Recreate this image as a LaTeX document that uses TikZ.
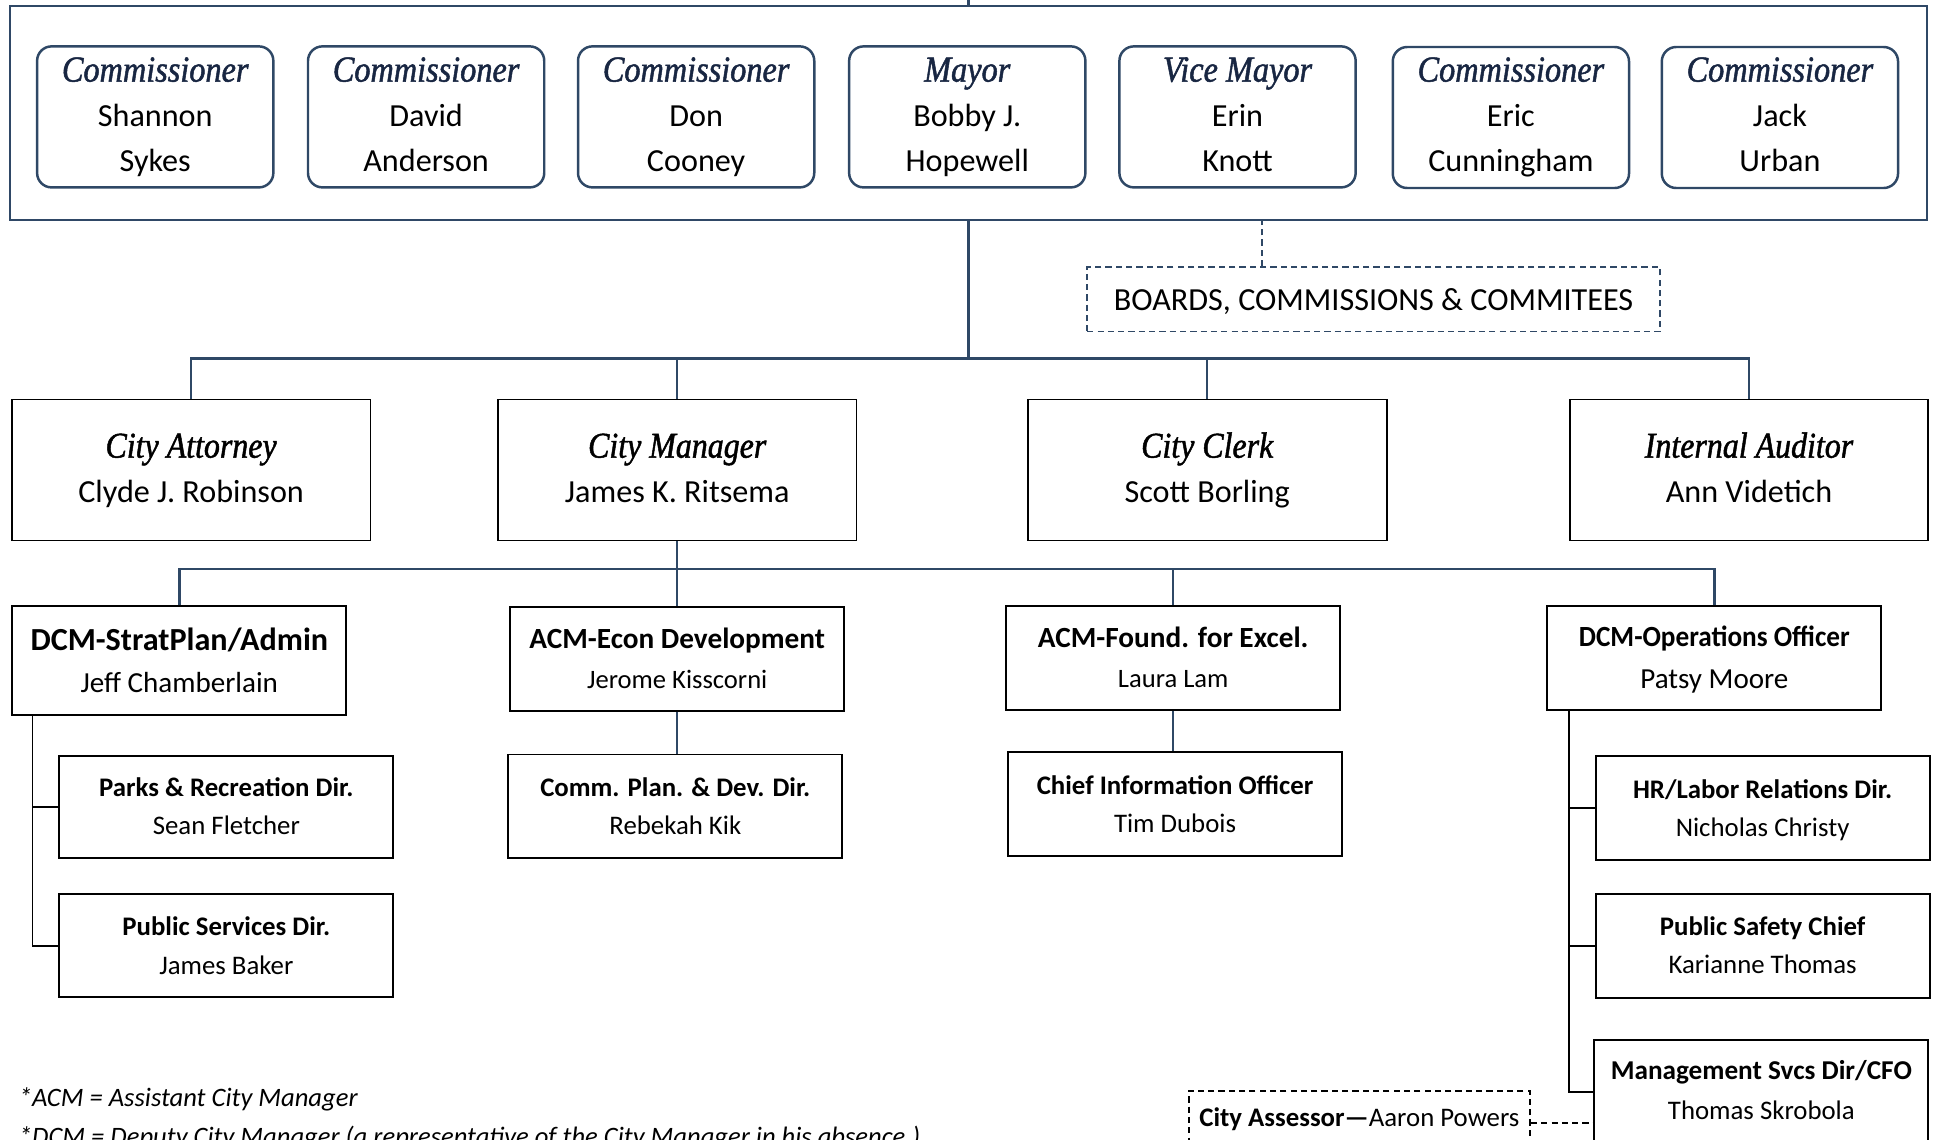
\documentclass[tikz,border=0pt]{standalone}
\usepackage{fontspec}
\setmainfont{Carlito}
\newfontfamily\serfont{Liberation Serif}[FakeStretch=0.88,FakeBold=1.3]
\newfontfamily\condfont{Carlito}[FakeStretch=0.93]
\usetikzlibrary{calc}
\definecolor{navy}{RGB}{47,72,102}
\definecolor{navytext}{RGB}{24,38,66}
\tikzset{
  council/.style={draw=navy, line width=1.2pt, minimum width=930pt, minimum height=103.8pt, inner sep=0pt},
  combox/.style={draw=navy, line width=1.2pt, rounded corners=7pt, fill=white, minimum width=114.6pt, minimum height=68.4pt, inner sep=0pt},
  bigbox/.style={draw=black, line width=0.9pt, fill=white, minimum width=174pt, minimum height=68.4pt, inner sep=0pt},
  midbox/.style={draw=black, line width=0.9pt, fill=white, minimum width=162pt, minimum height=50.4pt, inner sep=0pt},
  navydash/.style={draw=navy, line width=0.9pt, dash pattern=on 3pt off 2pt},
  blackdash/.style={draw=black, line width=0.8pt, dash pattern=on 3pt off 2pt},
  link/.style={draw=navy, line width=1.2pt},
  blink/.style={draw=black, line width=0.9pt},
  lbl/.style={anchor=base, inner sep=0pt},
  comtitle/.style={lbl, text=navytext, font={\serfont\itshape\fontsize{17.8pt}{20pt}\selectfont}},
  comname/.style={lbl, font={\fontsize{15.6pt}{18pt}\selectfont}},
  offtitle/.style={lbl, font={\serfont\itshape\fontsize{17.6pt}{20pt}\selectfont}},
  offname/.style={lbl, font={\fontsize{15.6pt}{18pt}\selectfont}},
  boldA/.style={lbl, font={\bfseries\fontsize{15.6pt}{18pt}\selectfont}},
  boldB/.style={lbl, font={\bfseries\fontsize{14.2pt}{17pt}\selectfont}},
  boldC/.style={lbl, font={\condfont\bfseries\fontsize{14.2pt}{17pt}\selectfont}},
  boldD/.style={lbl, font={\bfseries\fontsize{13pt}{16pt}\selectfont}},
  nameA/.style={lbl, font={\fontsize{14.1pt}{17pt}\selectfont}},
  nameB/.style={lbl, font={\fontsize{12.9pt}{16pt}\selectfont}},
  nameD/.style={lbl, font={\fontsize{13pt}{16pt}\selectfont}},
  foot/.style={anchor=base west, inner sep=0pt, font={\itshape\fontsize{12.9pt}{16pt}\selectfont}},
}
\begin{document}
\begin{tikzpicture}[x=0.6pt,y=-0.6pt]
\useasboundingbox (0,0) rectangle (1566,921.6);
\clip (0,0) rectangle (1566,921.6);

% council
\node[council] (council) at (783,91.5) {};
\draw[link] (council.north) -- ++(0,-8);

\node[combox] (c1) at (125.5,94.5) {};
\node[comtitle] (c1a) at (125.5,66) {Commissioner};
\node[comname] (c1b) at (125.5,102.5) {Shannon};
\node[comname] (c1c) at (125.5,139) {Sykes};

\node[combox] (c2) at (344.5,94.5) {};
\node[comtitle] (c2a) at (344.5,66) {Commissioner};
\node[comname] (c2b) at (344.5,102.5) {David};
\node[comname] (c2c) at (344.5,139) {Anderson};

\node[combox] (c3) at (562.8,94.5) {};
\node[comtitle] (c3a) at (562.8,66) {Commissioner};
\node[comname] (c3b) at (562.8,102.5) {Don};
\node[comname] (c3c) at (562.8,139) {Cooney};

\node[combox] (c4) at (782,94.5) {};
\node[comtitle] (c4a) at (782,66) {Mayor};
\node[comname] (c4b) at (782,102.5) {Bobby J.};
\node[comname] (c4c) at (782,139) {Hopewell};

\node[combox] (c5) at (1000.5,94.5) {};
\node[comtitle] (c5a) at (1000.5,66) {Vice Mayor};
\node[comname] (c5b) at (1000.5,102.5) {Erin};
\node[comname] (c5c) at (1000.5,139) {Knott};

\node[combox] (c6) at (1221.5,95) {};
\node[comtitle] (c6a) at (1221.5,66) {Commissioner};
\node[comname] (c6b) at (1221.5,102.5) {Eric};
\node[comname] (c6c) at (1221.5,139) {Cunningham};

\node[combox] (c7) at (1439,95) {};
\node[comtitle] (c7a) at (1439,66) {Commissioner};
\node[comname] (c7b) at (1439,102.5) {Jack};
\node[comname] (c7c) at (1439,139) {Urban};

% boards
\node[navydash, minimum width=277.8pt, minimum height=31.2pt, inner sep=0pt] (boards) at (1110.5,242) {};
\node[comname] (boardst) at (1110.5,251.2) {BOARDS, COMMISSIONS \& COMMITEES};
\draw[navydash] ([xshift=-54.3pt]boards.north) -- ([xshift=-54.3pt]boards.north |- council.south);

% row 2
\node[bigbox] (att) at (154.5,380) {};
\node[offtitle] (atta) at (154.5,370) {City Attorney};
\node[offname] (attb) at (154.5,406.5) {Clyde J. Robinson};

\node[bigbox] (mgr) at (547.5,380) {};
\node[offtitle] (mgra) at (547.5,370) {City Manager};
\node[offname] (mgrb) at (547.5,406.5) {James K. Ritsema};

\node[bigbox] (clerk) at (976,380) {};
\node[offtitle] (clerka) at (976,370) {City Clerk};
\node[offname] (clerkb) at (976,406.5) {Scott Borling};

\node[bigbox] (aud) at (1414,380) {};
\node[offtitle] (auda) at (1414,370) {Internal Auditor};
\node[offname] (audb) at (1414,406.5) {Ann Videtich};

\coordinate (hub) at (783,290);
\draw[link] (council.south) -- (hub);
\draw[link] (att.north) |- (hub) -| (aud.north);
\draw[link] (mgr.north) -- (mgr.north |- hub);
\draw[link] (clerk.north) -- (clerk.north |- hub);

% row 3
\node[midbox, minimum height=52.8pt] (dcm1) at (145,534) {};
\node[boldA] (dcm1a) at (145,525.5) {DCM-StratPlan/Admin};
\node[nameA] (dcm1b) at (145,560) {Jeff Chamberlain};

\node[midbox] (acm1) at (547.5,532.5) {};
\node[boldB] (acm1a) at (547.5,524.5) {ACM-Econ Development};
\node[nameB] (acm1b) at (547.5,556.5) {Jerome Kisscorni};

\node[midbox] (acm2) at (948.5,532) {};
\node[boldB] (acm2a) at (948.5,523.8) {ACM-Found. for Excel.};
\node[nameB] (acm2b) at (948.5,555.8) {Laura Lam};

\node[midbox] (dcm2) at (1386,532) {};
\node[boldC] (dcm2a) at (1386,523) {DCM-Operations Officer};
\node[nameA] (dcm2b) at (1386,556.5) {Patsy Moore};

\coordinate (hub2) at (547.5,460);
\draw[link] (mgr.south) -- (acm1.north);
\draw[link] (dcm1.north) |- (hub2) -| (dcm2.north);
\draw[link] (acm2.north) -- (acm2.north |- hub2);

% row 4
\node[midbox, minimum height=49.8pt] (parks) at (183,652.5) {};
\node[boldD] (parksa) at (183,644) {Parks \& Recreation Dir.};
\node[nameD] (parksb) at (183,675) {Sean Fletcher};

\node[midbox, minimum height=49.8pt] (pubsvc) at (183,764.5) {};
\node[boldD] (pubsvca) at (183,756) {Public Services Dir.};
\node[nameD] (pubsvcb) at (183,787.5) {James Baker};

\node[midbox] (commplan) at (546,652) {};
\node[boldD] (commplana) at (546,644) {Comm. Plan. \& Dev. Dir.};
\node[nameD] (commplanb) at (546,675) {Rebekah Kik};

\node[midbox] (cio) at (950,650) {};
\node[boldD] (cioa) at (950,642) {Chief Information Officer};
\node[nameD] (ciob) at (950,673) {Tim Dubois};

\node[midbox] (hr) at (1425,653) {};
\node[boldD] (hra) at (1425,645.4) {HR/Labor Relations Dir.};
\node[nameD] (hrb) at (1425,676.4) {Nicholas Christy};

\node[midbox] (psafety) at (1425,765) {};
\node[boldD] (psafetya) at (1425,756) {Public Safety Chief};
\node[nameD] (psafetyb) at (1425,787) {Karianne Thomas};

\node[midbox] (mgmt) at (1424,883) {};
\node[boldD, font={\bfseries\fontsize{13.2pt}{16pt}\selectfont}] (mgmta) at (1424,873) {Management Svcs Dir/CFO};
\node[nameD] (mgmtb) at (1424,905) {Thomas Skrobola};

\draw[blink] ([xshift=10.2pt]dcm1.south west) |- (parks.west);
\draw[blink] ([xshift=10.2pt]dcm1.south west) |- (pubsvc.west);
\draw[link] (acm1.south) -- (acm1.south |- commplan.north);
\draw[link] (acm2.south) -- (acm2.south |- cio.north);
\draw[blink] ([xshift=10.8pt]dcm2.south west) |- (hr.west);
\draw[blink] ([xshift=10.8pt]dcm2.south west) |- (psafety.west);
\draw[blink] ([xshift=10.8pt]dcm2.south west) |- (mgmt.west);

% city assessor
\node[blackdash, minimum width=165.6pt, minimum height=31.2pt, inner sep=0pt] (assessor) at (1099,908) {};
\node[nameD] (assessort) at (1099,910.8) {\textbf{City Assessor—}Aaron Powers};
\draw[blackdash] (assessor.east) -- (assessor.east -| mgmt.west);

% footnotes
\node[foot] (fn1) at (15,894.7) {*ACM = Assistant City Manager};
\node[foot] (fn2) at (15,926) {*DCM = Deputy City Manager (a representative of the City Manager in his absence.)};
\end{tikzpicture}
\end{document}
